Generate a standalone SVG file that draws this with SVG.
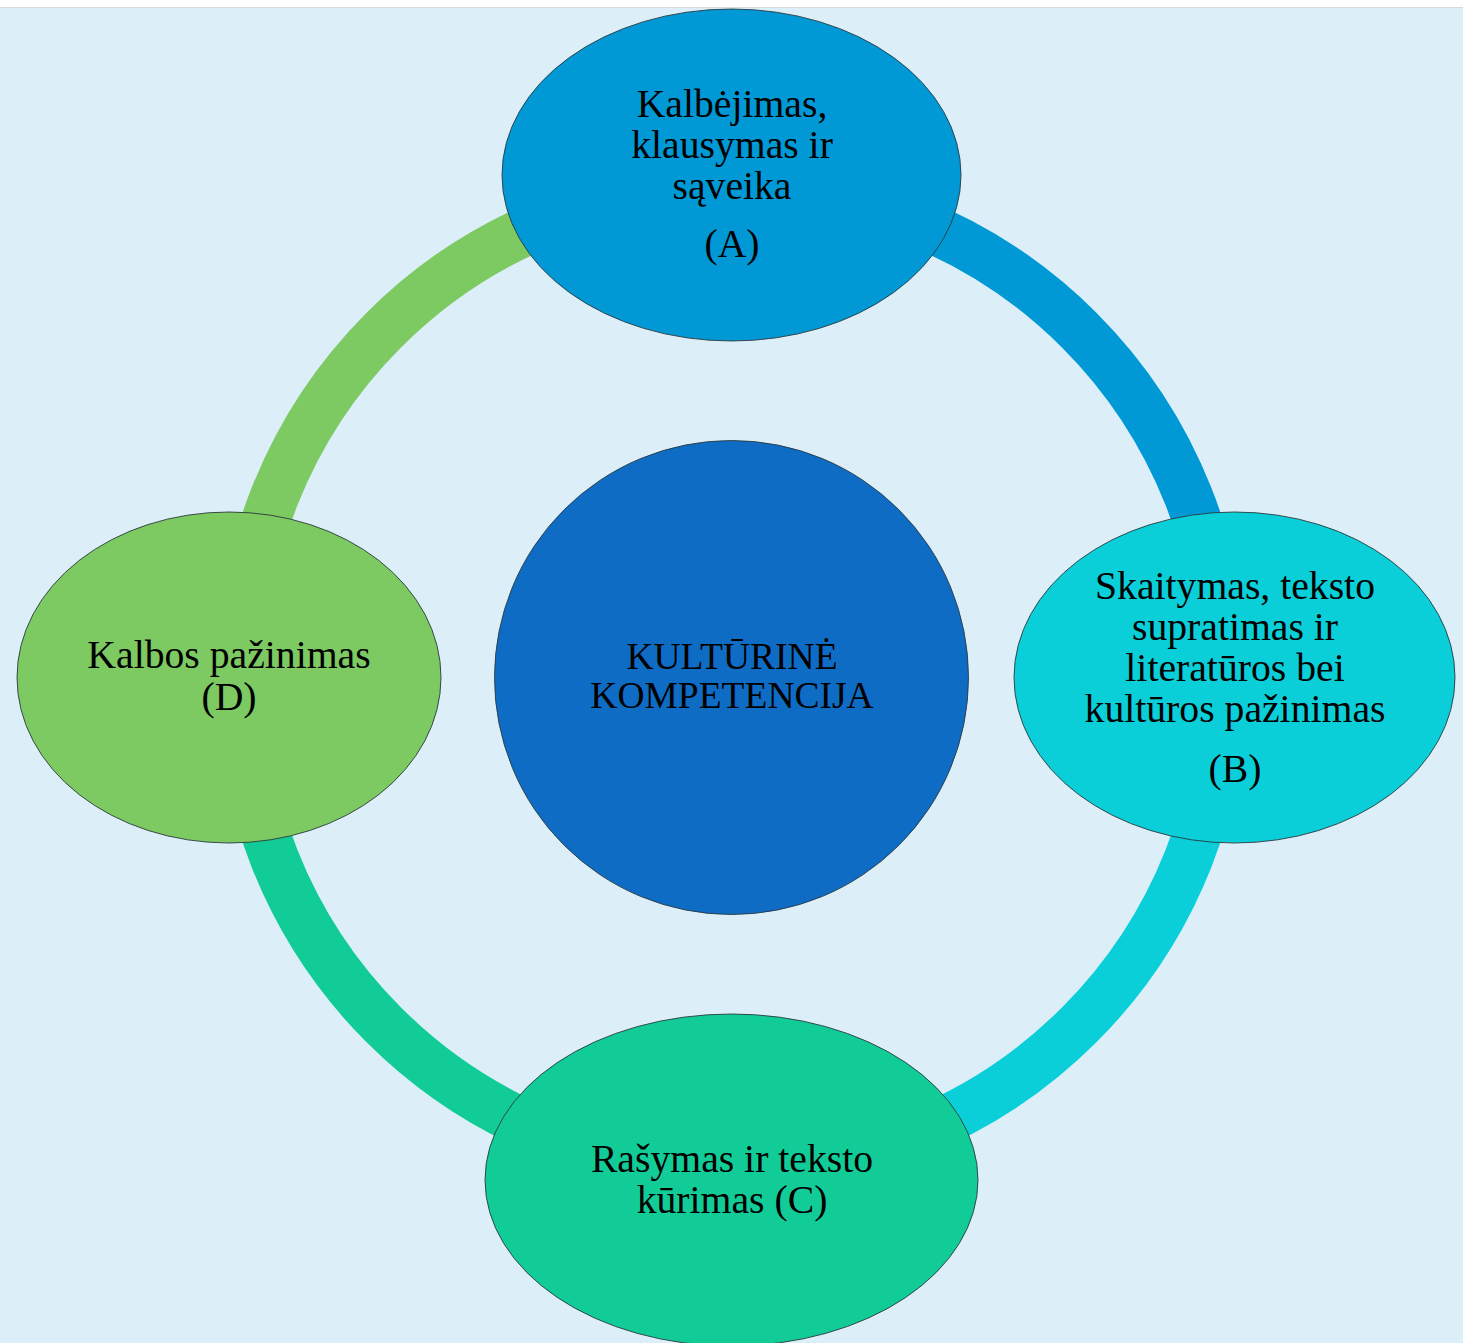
<svg xmlns="http://www.w3.org/2000/svg" width="1463" height="1343" viewBox="0 0 1463 1343">
<style>
.node{stroke:#2a3a40;stroke-width:0.9}
.ring{fill:none;stroke-width:49}
text{font-family:"Liberation Serif","Times New Roman",serif;font-size:39.7px;fill:#000;text-anchor:middle}
text.c{font-size:37.5px}
</style>
<rect x="0" y="0" width="1463" height="1343" fill="#ffffff"/>
<rect x="0" y="7.5" width="1463" height="1336" fill="#dceef7"/>
<line x1="0" y1="7.5" x2="1463" y2="7.5" stroke="#d6d9de" stroke-width="1"/>
<g id="connectors">
<path class="ring" stroke="#0099d6" d="M731.5 186 A491.5 491.5 0 0 1 1223 677.5"/>
<path class="ring" stroke="#0acfd9" d="M1223 677.5 A491.5 491.5 0 0 1 731.5 1169"/>
<path class="ring" stroke="#12cc98" d="M731.5 1169 A491.5 491.5 0 0 1 240 677.5"/>
<path class="ring" stroke="#7dc962" d="M240 677.5 A491.5 491.5 0 0 1 731.5 186"/>
</g>
<g id="center">
<circle class="node" cx="731.5" cy="677.5" r="237" fill="#0f6cc4"/>
<text class="c" x="732" y="669">KULTŪRINĖ</text>
<text class="c" x="732" y="708">KOMPETENCIJA</text>
</g>
<g id="nodeA">
<ellipse class="node" cx="731.5" cy="175" rx="229.5" ry="166" fill="#0099d6"/>
<text x="732" y="117">Kalbėjimas,</text>
<text x="732" y="158">klausymas ir</text>
<text x="732" y="199">sąveika</text>
<text x="732" y="257">(A)</text>
</g>
<g id="nodeB">
<ellipse class="node" cx="1234.5" cy="677.5" rx="220.5" ry="165.5" fill="#0acfd9"/>
<text x="1235" y="599">Skaitymas, teksto</text>
<text x="1235" y="640">supratimas ir</text>
<text x="1235" y="681">literatūros bei</text>
<text x="1235" y="722">kultūros pažinimas</text>
<text x="1235" y="782">(B)</text>
</g>
<g id="nodeC">
<ellipse class="node" cx="731.5" cy="1180" rx="246.5" ry="166" fill="#12cc98"/>
<text x="732" y="1172">Rašymas ir teksto</text>
<text x="732" y="1213">kūrimas (C)</text>
</g>
<g id="nodeD">
<ellipse class="node" cx="229" cy="677.5" rx="212" ry="165.5" fill="#7dc962"/>
<text x="229" y="668">Kalbos pažinimas</text>
<text x="229" y="710">(D)</text>
</g>
</svg>
